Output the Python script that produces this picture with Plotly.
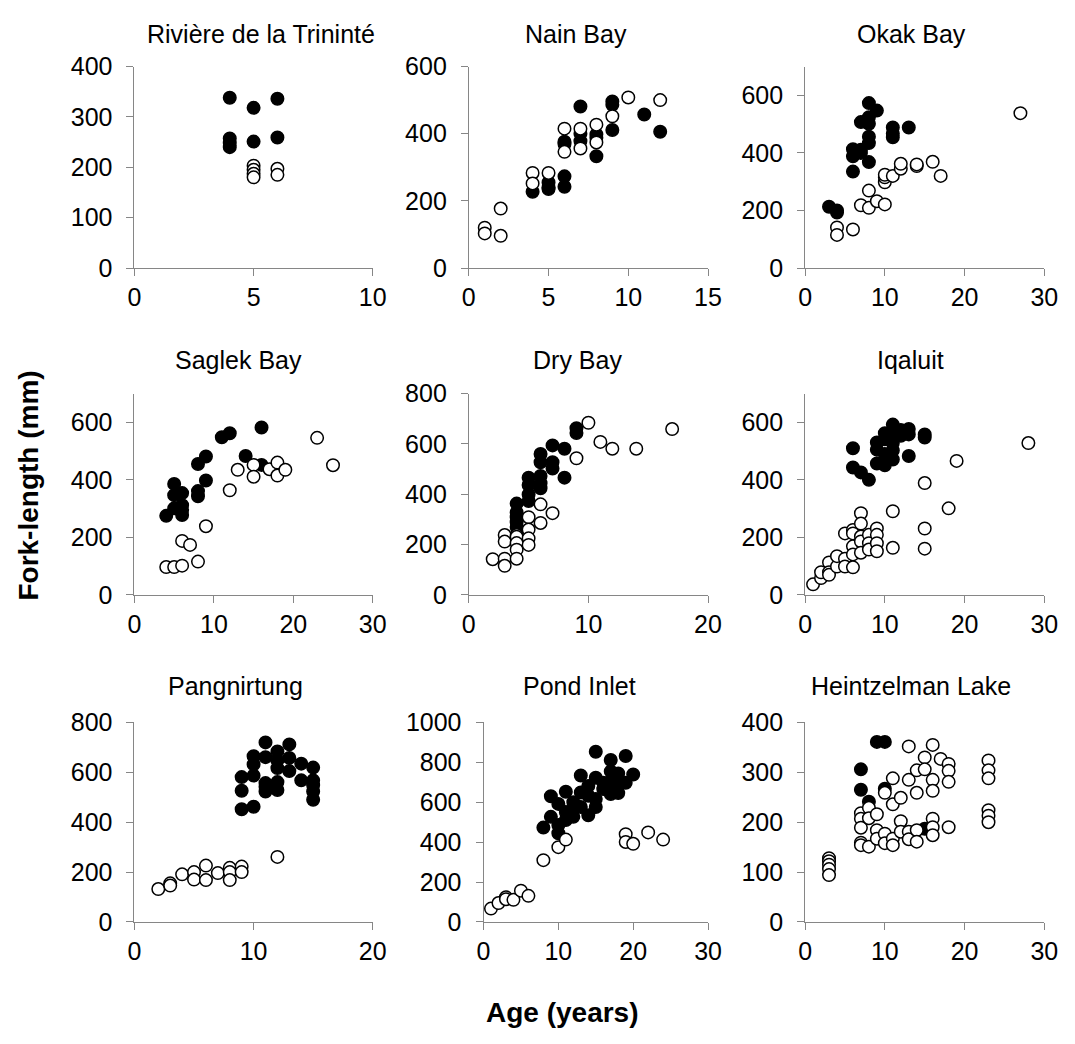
import plotly.graph_objects as go

# ---------------------------------------------------------------- data
# Each site: ages (years) and fork-lengths (mm) for the filled-symbol group
# and for the open-symbol group.

riviere_filled_age = [4, 4, 4, 4, 5, 5, 6, 6]
riviere_filled_len = [338, 257, 248, 240, 318, 251, 336, 259]
riviere_open_age = [5, 5, 5, 5, 6, 6]
riviere_open_len = [203, 195, 187, 180, 197, 185]

nain_filled_age = [4, 5, 5, 5, 6, 6, 6, 6, 7, 7, 7, 8, 8, 8, 9, 9, 9, 11, 12]
nain_filled_len = [227, 255, 240, 235, 376, 369, 273, 242, 481, 378, 400, 398, 388, 333, 496, 486, 411, 457, 406]
nain_open_age = [1, 1, 2, 2, 4, 4, 5, 6, 6, 7, 7, 8, 8, 9, 10, 12]
nain_open_len = [120, 103, 177, 96, 283, 252, 283, 415, 346, 415, 356, 427, 374, 452, 508, 500]

okak_filled_age = [3, 4, 4, 6, 6, 6, 7, 7, 7, 8, 8, 8, 8, 8, 8, 9, 11, 11, 11, 13]
okak_filled_len = [213, 200, 193, 413, 388, 335, 507, 411, 400, 573, 524, 501, 456, 434, 368, 547, 488, 467, 454, 488]
okak_open_age = [4, 4, 6, 7, 8, 8, 9, 10, 10, 10, 10, 11, 12, 12, 14, 14, 16, 17, 27]
okak_open_len = [141, 115, 134, 218, 269, 209, 232, 221, 298, 315, 324, 320, 345, 362, 354, 360, 369, 320, 538]

saglek_filled_age = [4, 5, 5, 5, 6, 6, 6, 6, 8, 8, 8, 9, 9, 11, 12, 14, 16, 16]
saglek_filled_len = [275, 386, 347, 301, 354, 312, 278, 295, 455, 361, 343, 481, 398, 548, 562, 483, 582, 452]
saglek_open_age = [4, 5, 6, 6, 7, 8, 9, 12, 13, 15, 15, 17, 18, 18, 19, 23, 25]
saglek_open_len = [97, 97, 102, 188, 174, 116, 239, 364, 435, 452, 411, 437, 460, 415, 435, 546, 451]

dry_filled_age = [4, 4, 4, 4, 4, 5, 5, 5, 5, 6, 6, 6, 6, 6, 7, 7, 7, 8, 8, 9, 9]
dry_filled_len = [363, 328, 309, 289, 270, 466, 437, 399, 373, 560, 527, 473, 444, 424, 594, 527, 502, 581, 466, 662, 643]
dry_open_age = [2, 3, 3, 3, 3, 4, 4, 4, 4, 4, 5, 5, 5, 5, 6, 6, 7, 9, 10, 11, 12, 14, 17]
dry_open_len = [142, 238, 212, 144, 116, 238, 231, 206, 180, 144, 309, 260, 225, 199, 360, 286, 325, 543, 684, 608, 581, 581, 659]

iqaluit_filled_age = [6, 6, 7, 8, 9, 9, 9, 10, 10, 10, 10, 11, 11, 11, 11, 11, 12, 12, 13, 13, 13, 15, 15]
iqaluit_filled_len = [510, 443, 426, 400, 530, 505, 457, 562, 541, 490, 451, 592, 564, 528, 502, 471, 573, 553, 577, 558, 483, 558, 547]
iqaluit_open_age = [1, 2, 2, 3, 3, 3, 4, 4, 5, 5, 5, 6, 6, 6, 6, 6, 7, 7, 7, 7, 7, 8, 8, 8,
                    9, 9, 9, 9, 11, 11, 15, 15, 15, 18, 19, 28]
iqaluit_open_len = [37, 59, 79, 113, 79, 70, 99, 135, 214, 126, 99, 226, 214, 169, 141, 96, 284, 248, 203, 186, 147, 209, 180, 158,
                    231, 209, 180, 152, 291, 164, 389, 231, 161, 301, 466, 528]

pang_filled_age = [9, 9, 9, 10, 10, 10, 10, 11, 11, 11, 11, 11, 12, 12, 12, 12, 12, 13, 13, 13, 14, 14, 15, 15, 15, 15, 15]
pang_filled_len = [581, 526, 452, 587, 462, 665, 632, 720, 661, 557, 523, 542, 684, 648, 617, 561, 529, 712, 658, 605, 635, 568, 619, 568, 548, 523, 490]
pang_open_age = [2, 3, 3, 4, 5, 5, 6, 6, 7, 8, 8, 8, 9, 9, 12]
pang_open_len = [132, 155, 146, 191, 200, 170, 226, 168, 196, 217, 200, 168, 222, 200, 261]

pond_filled_age = [8, 9, 9, 10, 10, 10, 11, 11, 11, 12, 12, 12, 13, 13, 13, 14, 14, 14, 15, 15, 15, 15,
                   16, 16, 17, 17, 17, 17, 18, 18, 18, 19, 19, 20]
pond_filled_len = [473, 630, 527, 592, 486, 445, 653, 551, 511, 600, 568, 527, 734, 649, 576, 682, 633, 535, 853, 723, 617, 576,
                   698, 666, 812, 755, 706, 641, 744, 682, 646, 832, 698, 739]
pond_open_age = [1, 2, 3, 3, 4, 5, 6, 8, 10, 11, 19, 19, 20, 22, 24]
pond_open_len = [67, 95, 124, 114, 111, 157, 131, 310, 375, 413, 440, 401, 392, 449, 413]

heintz_filled_age = [7, 7, 8, 9, 10, 10, 15]
heintz_filled_len = [306, 265, 241, 361, 361, 267, 187]
heintz_open_age = [3, 3, 3, 3, 3, 7, 7, 7, 7, 7, 8, 8, 8, 9, 9, 9, 10, 10, 10, 11, 11, 11, 11,
                   12, 12, 12, 13, 13, 13, 13, 14, 14, 14, 14, 15, 15, 16, 16, 16, 16, 16, 16,
                   17, 18, 18, 18, 18, 23, 23, 23, 23, 23, 23]
heintz_open_len = [128, 122, 115, 106, 94, 218, 207, 189, 159, 154, 229, 208, 151, 216, 184, 167, 177, 158, 259, 288, 236, 167, 154,
                   249, 202, 181, 352, 285, 181, 166, 304, 259, 184, 161, 330, 306, 355, 285, 263, 207, 190, 174,
                   327, 317, 303, 281, 190, 324, 304, 288, 224, 213, 200]

site_titles = ["Rivière de la Trininté", "Nain Bay", "Okak Bay",
               "Saglek Bay", "Dry Bay", "Iqaluit",
               "Pangnirtung", "Pond Inlet", "Heintzelman Lake"]

site_data = [
    (riviere_filled_age, riviere_filled_len, riviere_open_age, riviere_open_len),
    (nain_filled_age, nain_filled_len, nain_open_age, nain_open_len),
    (okak_filled_age, okak_filled_len, okak_open_age, okak_open_len),
    (saglek_filled_age, saglek_filled_len, saglek_open_age, saglek_open_len),
    (dry_filled_age, dry_filled_len, dry_open_age, dry_open_len),
    (iqaluit_filled_age, iqaluit_filled_len, iqaluit_open_age, iqaluit_open_len),
    (pang_filled_age, pang_filled_len, pang_open_age, pang_open_len),
    (pond_filled_age, pond_filled_len, pond_open_age, pond_open_len),
    (heintz_filled_age, heintz_filled_len, heintz_open_age, heintz_open_len),
]

# axis ranges and tick steps per panel: (x max, x step, y max, y step)
axis_specs = [
    (10, 5, 400, 100), (15, 5, 600, 200), (30, 10, 700, 200),
    (30, 10, 700, 200), (20, 10, 800, 200), (30, 10, 700, 200),
    (20, 10, 800, 200), (30, 10, 1000, 200), (30, 10, 400, 100),
]

# ---------------------------------------------------------------- layout
W, H = 1075, 1044
FONT = "Arial, 'Liberation Sans', sans-serif"
TXT = 25

# plot-area boxes in pixels: (left, right) per column and (top, bottom) per row
col_px = [(130, 373), (471, 715), (814, 1058)]
row_px = [(54, 261), (390, 597), (728, 933)]
title_pos = [(259, 21), (580, 21), (923, 21),
             (236, 356), (582, 356), (922, 356),
             (233, 691), (584, 691), (922, 691)]


def xdom(a, b):
    return [a / W, b / W]


def ydom(top, bottom):
    return [1 - bottom / H, 1 - top / H]


fig = go.Figure()
layout = dict(
    width=W, height=H, autosize=False,
    margin=dict(l=0, r=0, t=0, b=0),
    paper_bgcolor="white", plot_bgcolor="white",
    showlegend=False,
    font=dict(family=FONT, size=TXT, color="black"),
    annotations=[],
)

axis_common = dict(
    showgrid=False, zeroline=False, showline=True,
    linecolor="#868686", linewidth=1,
    ticks="outside", ticklen=7, tickwidth=1, tickcolor="#868686",
    tickfont=dict(family=FONT, size=TXT, color="black"),
)

for i, (title, (fa, fl, oa, ol), (xmax, xstep, ymax, ystep)) in enumerate(
        zip(site_titles, site_data, axis_specs)):
    r, c = divmod(i, 3)
    n = "" if i == 0 else str(i + 1)
    xl, xr = col_px[c]
    if i == 7:
        xl = 486  # wider tick labels push this plot area right
    yt, yb = row_px[r]

    fig.add_trace(go.Scatter(
        x=fa, y=fl, mode="markers", name="filled",
        marker=dict(symbol="circle", size=12.5, color="black",
                    line=dict(color="black", width=1.5)),
        xaxis="x" + n, yaxis="y" + n, cliponaxis=False,
    ))
    fig.add_trace(go.Scatter(
        x=oa, y=ol, mode="markers", name="open",
        marker=dict(symbol="circle", size=12.5, color="white",
                    line=dict(color="black", width=1.5)),
        xaxis="x" + n, yaxis="y" + n, cliponaxis=False,
    ))

    layout["xaxis" + n] = dict(
        axis_common, domain=xdom(xl, xr), anchor="y" + n,
        range=[0, xmax], tick0=0, dtick=xstep,
    )
    layout["yaxis" + n] = dict(
        axis_common, domain=ydom(yt, yb), anchor="x" + n,
        range=[0, ymax], tick0=0, dtick=ystep, ticklabelstandoff=9,
    )

    tx, ty = title_pos[i]
    layout["annotations"].append(dict(
        text=title, x=tx / W, y=1 - ty / H, xref="paper", yref="paper",
        xanchor="center", yanchor="middle", showarrow=False,
        font=dict(family=FONT, size=TXT, color="black"),
    ))

# shared axis titles
layout["annotations"].append(dict(
    text="<b>Age (years)</b>", x=567 / W, y=1 - 1026 / H,
    xref="paper", yref="paper", xanchor="center", yanchor="middle",
    showarrow=False, font=dict(family=FONT, size=28, color="black"),
))
layout["annotations"].append(dict(
    text="<b>Fork-length (mm)</b>", x=22 / W, y=1 - 485 / H,
    xref="paper", yref="paper", xanchor="center", yanchor="middle",
    textangle=-90, showarrow=False,
    font=dict(family=FONT, size=28, color="black"),
))

fig.update_layout(**layout)
fig.write_html("out.html")
